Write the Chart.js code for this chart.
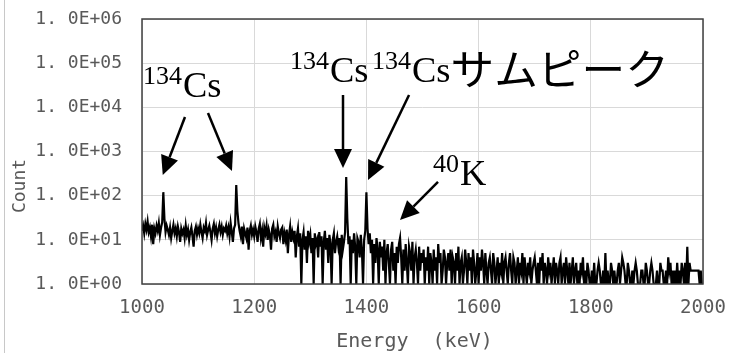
<!DOCTYPE html>
<html>
<head>
<meta charset="utf-8">
<script src="https://cdn.jsdelivr.net/npm/chart.js@4.4.0/dist/chart.umd.min.js"></script>
<style>
    html, body { margin: 0; padding: 0; background: #fff; }
    canvas { display: block; }
</style>
</head>
<body>
<canvas id="spectrum" width="730" height="353"></canvas>
<script>
// Spectrum channels: 2 keV per channel, starting at 1000 keV
const energyStart = 1000;
const energyStep = 2;

// Counts, one segment per 200 keV (zero counts shown as 1)
const counts1000 = [
    16,21,14,23,17,26,15,19,12,22,8,18,14,21,16,24,13,19,25,120,30,15,21,17,13,
    19,11,16,22,14,18,12,20,15,9,18,14,17,11,21,13,17,10,15,19,12,7,16,20,13,
    18,14,22,15,11,19,16,24,13,17,21,15,10,18,23,14,19,12,17,22,15,20,13,18,16,
    21,14,19,12,24,15,9,18,22,175,45,24,16,12,20,8,18,14,11,19,6,16,21,13,17
];
const counts1200 = [
    12,20,15,9,18,23,11,16,7,19,14,21,10,17,13,6,18,22,12,15,9,20,14,11,17,
    19,8,14,10,17,5,13,20,9,15,11,16,4,12,18,7,14,1,10,15,6,12,3,16,9,
    13,5,11,1,14,8,10,4,15,7,12,1,9,16,6,11,3,13,8,1,10,14,5,9,12,
    7,11,1,13,6,9,15,265,30,8,12,1,10,5,14,7,1,11,9,4,13,6,1,10,16
];
const counts1400 = [
    120,18,8,14,5,10,1,8,3,11,6,1,9,4,7,2,10,1,5,8,3,1,6,9,2,
    5,1,7,3,8,11,4,1,6,2,8,3,1,7,5,2,9,1,4,6,3,1,7,2,5,
    3,6,1,4,2,7,1,5,3,1,6,2,4,1,8,3,5,1,2,6,4,1,3,5,2,
    6,1,4,3,1,5,2,7,1,3,4,1,2,6,3,1,5,2,4,1,6,3,1,2,5
];
const counts1600 = [
    1,4,2,6,3,1,5,2,1,3,4,2,1,5,3,1,2,4,1,3,2,5,1,3,4,
    2,1,3,5,2,1,4,3,1,2,4,1,3,2,5,1,4,2,1,3,2,4,1,2,3,
    4,2,1,3,1,4,2,5,1,3,2,1,4,2,3,1,2,4,1,3,2,1,3,4,1,
    2,3,1,4,2,1,3,1,2,4,1,2,3,1,2,1,3,2,4,1,2,1,3,2,1
];
const counts1800 = [
    1,2,1,3,1,1,2,3,2,1,1,2,1,5,1,2,1,1,3,2,1,2,1,1,2,
    3,1,2,4,3,2,1,1,3,2,1,1,2,1,2,3,2,1,1,1,2,2,1,1,3,
    2,1,1,2,3,2,1,1,1,2,1,1,3,2,2,1,1,2,1,4,2,3,1,2,1,
    2,1,3,1,2,1,3,2,1,3,1,7,1,3,2,2,2,2,2,2,2,2,1,2,1,
    1
];

// Axis ticks
const xTickValues = [1000, 1200, 1400, 1600, 1800, 2000];
const yTickValues = [1, 10, 100, 1000, 10000, 100000, 1000000];
const yTickLabels = ['1. 0E+00', '1. 0E+01', '1. 0E+02', '1. 0E+03', '1. 0E+04', '1. 0E+05', '1. 0E+06'];

// Peak labels: superscript, symbol, extra text, anchor energy and count (baseline)
const labelSup = ['134', '134', '134', '40'];
const labelMain = ['Cs', 'Cs', 'Cs', 'K'];
const labelExtra = ['', '', 'サムピーク', ''];
const labelEnergy = [1001.8, 1263.8, 1410, 1518.7];
const labelCount = [17100, 37400, 37400, 174];

// Arrows: from (energy, count) to (energy, count)
const arrowFromE = [1076.6, 1117.6, 1358.3, 1476, 1527.6];
const arrowFromC = [6040, 7430, 19000, 19000, 204];
const arrowToE = [1037, 1160.4, 1358.3, 1402.9, 1459.9];
const arrowToC = [294, 362, 423, 226, 28];

const allCounts = counts1000.concat(counts1200, counts1400, counts1600, counts1800);
const points = allCounts.map((c, i) => ({ x: energyStart + i * energyStep, y: c }));

const axisFont = '"DejaVu Sans Mono", monospace';
const gridColor = '#d9d9d9';
const textColor = '#595959';

// Frame, axis titles and peak annotations
const decorPlugin = {
    id: 'decor',
    beforeDraw(chart) {
        const ctx = chart.ctx;
        ctx.save();
        ctx.fillStyle = '#fff';
        ctx.fillRect(0, 0, chart.width, chart.height);
        ctx.strokeStyle = '#c8c8c8';
        ctx.lineWidth = 1;
        ctx.beginPath();
        ctx.moveTo(4.5, 0);
        ctx.lineTo(4.5, chart.height);
        ctx.stroke();
        ctx.restore();
    },
    afterDatasetsDraw(chart) {
        const ctx = chart.ctx;
        const area = chart.chartArea;
        const xs = chart.scales.x;
        const ys = chart.scales.y;
        ctx.save();

        // plot border
        ctx.strokeStyle = '#404040';
        ctx.lineWidth = 1.5;
        ctx.strokeRect(area.left, area.top, area.right - area.left, area.bottom - area.top);

        // axis titles (the x title sits a little left of the plot centre)
        ctx.fillStyle = textColor;
        ctx.font = '20px ' + axisFont;
        ctx.textAlign = 'center';
        ctx.textBaseline = 'middle';
        ctx.fillText('Energy  (keV)', (area.left + area.right) / 2 - 8, 342);
        ctx.save();
        ctx.translate(20, 186);
        ctx.rotate(-Math.PI / 2);
        ctx.font = '18px ' + axisFont;
        ctx.fillText('Count', 0, 0);
        ctx.restore();

        // arrows
        ctx.strokeStyle = '#000';
        ctx.fillStyle = '#000';
        ctx.lineWidth = 2.5;
        for (let i = 0; i < arrowFromE.length; i++) {
            const x1 = xs.getPixelForValue(arrowFromE[i]);
            const y1 = ys.getPixelForValue(arrowFromC[i]);
            const x2 = xs.getPixelForValue(arrowToE[i]);
            const y2 = ys.getPixelForValue(arrowToC[i]);
            const ang = Math.atan2(y2 - y1, x2 - x1);
            const headLen = 19, headW = 9;
            const bx = x2 - headLen * Math.cos(ang);
            const by = y2 - headLen * Math.sin(ang);
            ctx.beginPath();
            ctx.moveTo(x1, y1);
            ctx.lineTo(bx, by);
            ctx.stroke();
            ctx.beginPath();
            ctx.moveTo(x2, y2);
            ctx.lineTo(bx + headW * Math.sin(ang), by - headW * Math.cos(ang));
            ctx.lineTo(bx - headW * Math.sin(ang), by + headW * Math.cos(ang));
            ctx.closePath();
            ctx.fill();
        }

        // labels
        ctx.textAlign = 'left';
        ctx.textBaseline = 'alphabetic';
        const stretch = 1.04;
        for (let i = 0; i < labelSup.length; i++) {
            let x = xs.getPixelForValue(labelEnergy[i]);
            const y = ys.getPixelForValue(labelCount[i]);
            ctx.save();
            ctx.translate(x, y);
            ctx.scale(stretch, 1);
            let cx = 0;
            ctx.font = '25px "Liberation Serif", serif';
            ctx.fillText(labelSup[i], cx, -13);
            cx += ctx.measureText(labelSup[i]).width + 1;
            ctx.font = '35px "Liberation Serif", serif';
            ctx.fillText(labelMain[i], cx, 0);
            cx += ctx.measureText(labelMain[i]).width;
            if (labelExtra[i]) {
                ctx.font = '42px "Noto Sans CJK JP", sans-serif';
                ctx.fillText(labelExtra[i], cx, 3);
            }
            ctx.restore();
        }
        ctx.restore();
    }
};

new Chart(document.getElementById('spectrum'), {
    type: 'line',
    data: {
        datasets: [{
            data: points,
            borderColor: '#000',
            borderWidth: 2.2,
            pointRadius: 0,
            tension: 0
        }]
    },
    options: {
        responsive: false,
        animation: false,
        devicePixelRatio: 1,
        layout: { padding: { top: 19, right: 27, left: 0, bottom: 0 } },
        plugins: { legend: { display: false }, tooltip: { enabled: false } },
        scales: {
            x: {
                type: 'linear',
                min: 1000,
                max: 2000,
                afterBuildTicks: (scale) => { scale.ticks = xTickValues.map(v => ({ value: v })); },
                afterFit: (scale) => {
                    scale.height = 69;
                    scale.paddingLeft = 0;
                    scale.paddingRight = 0;
                },
                ticks: {
                    color: textColor,
                    font: { family: axisFont, size: 19 },
                    padding: 13,
                    maxRotation: 0,
                    callback: (value) => String(value)
                },
                grid: { color: gridColor, drawTicks: false },
                border: { display: false }
            },
            y: {
                type: 'logarithmic',
                min: 1,
                max: 1000000,
                afterBuildTicks: (scale) => { scale.ticks = yTickValues.map(v => ({ value: v })); },
                afterFit: (scale) => {
                    scale.width = 142;
                    scale.paddingTop = 0;
                    scale.paddingBottom = 0;
                },
                ticks: {
                    color: textColor,
                    font: { family: axisFont, size: 18 },
                    padding: 20,
                    callback: (value) => yTickLabels[yTickValues.indexOf(value)]
                },
                grid: { color: gridColor, drawTicks: false },
                border: { display: false }
            }
        }
    },
    plugins: [decorPlugin]
});
</script>
</body>
</html>
